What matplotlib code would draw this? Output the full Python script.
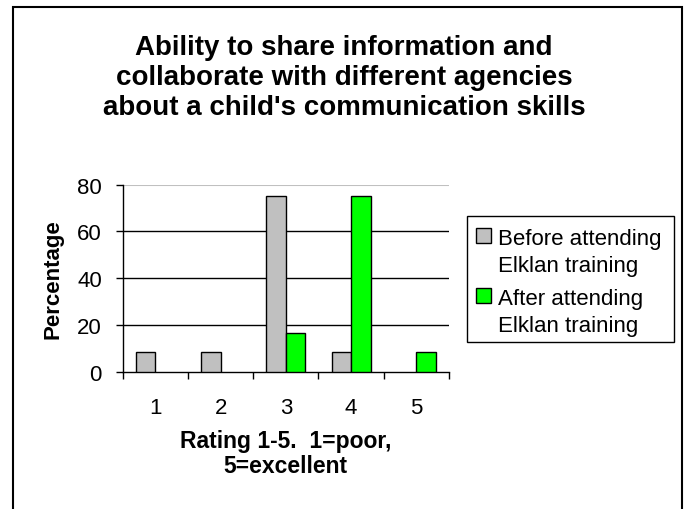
import matplotlib.pyplot as plt
import numpy as np
from matplotlib.patches import Rectangle

plt.rcParams['font.family'] = ['Liberation Sans', 'DejaVu Sans']

ratings = ["1", "2", "3", "4", "5"]
before = [8.3, 8.3, 75.0, 8.3, 0.0]
after = [0.0, 0.0, 16.7, 75.0, 8.3]
series_names = ["Before attending\nElklan training", "After attending\nElklan training"]
colors = ["#c0c0c0", "#00ff00"]

W, H = 688, 510
fig = plt.figure(figsize=(W / 100, H / 100), dpi=100)
ax = fig.add_axes([0.1784, 0.2692, 0.4742, 0.3667])

x = np.arange(len(ratings))
w = 0.3
# zero values draw nothing (no flat outline on the baseline)
b = np.array(before)
a = np.array(after)
ax.bar(x[b > 0] - w / 2, b[b > 0], w, color=colors[0], edgecolor="black", linewidth=1, zorder=3)
ax.bar(x[a > 0] + w / 2, a[a > 0], w, color=colors[1], edgecolor="black", linewidth=1, zorder=3)

ax.set_xlim(-0.5, 4.5)
ax.set_ylim(0, 80)
ax.set_yticks([0, 20, 40, 60, 80])
for yv in [20, 40, 60]:
    ax.axhline(yv, color="black", linewidth=1, zorder=1)
ax.axhline(80, color="#c0c0c0", linewidth=1.5, zorder=1)

# ticks sit on the category boundaries, labels in the middle
ax.set_xticks(np.arange(-0.5, 5.0, 1.0))
ax.set_xticklabels([])
ax.set_xticks(x, minor=True)
ax.set_xticklabels(ratings, minor=True, fontsize=16)
ax.tick_params(axis="x", which="minor", length=0, pad=18)
ax.tick_params(axis="x", which="major", length=5, width=1, direction="out")
ax.tick_params(axis="y", length=5, width=1, direction="out", labelsize=16, pad=10)

for s in ["top", "right"]:
    ax.spines[s].set_visible(False)
ax.spines["left"].set_linewidth(1)
ax.spines["bottom"].set_linewidth(1)

ax.set_ylabel("Percentage", fontsize=16, fontweight="bold", labelpad=10)
ax.set_xlabel("Rating 1-5.  1=poor,\n5=excellent", fontsize=16.5, fontweight="bold", labelpad=8, linespacing=1.12)

fig.text(0.5, 1 - 78 / H, "Ability to share information and\ncollaborate with different agencies\nabout a child's communication skills",
         ha="center", va="center", fontsize=20, fontweight="bold", linespacing=1.18)

# legend box drawn by hand so the swatch sits on the first text line
fig.patches.append(Rectangle((467 / W, 1 - 343 / H), 207 / W, 126 / H, transform=fig.transFigure,
                             fill=False, edgecolor="black", linewidth=1))
entry_top = [237, 297]
for i, name in enumerate(series_names):
    y0 = entry_top[i]
    fig.patches.append(Rectangle((476 / W, 1 - (y0 + 7) / H), 15 / W, 15 / H, transform=fig.transFigure,
                                 facecolor=colors[i], edgecolor="black", linewidth=1))
    for j, line in enumerate(name.split("\n")):
        fig.text(498 / W, 1 - (y0 + 27 * j) / H, line, ha="left", va="center_baseline", fontsize=16)

fig.patches.append(Rectangle((13 / W, -0.01), 669 / W, 1 - 8 / H + 0.01, transform=fig.transFigure,
                             fill=False, edgecolor="black", linewidth=1.5))

fig.savefig("out.png", dpi=100)
